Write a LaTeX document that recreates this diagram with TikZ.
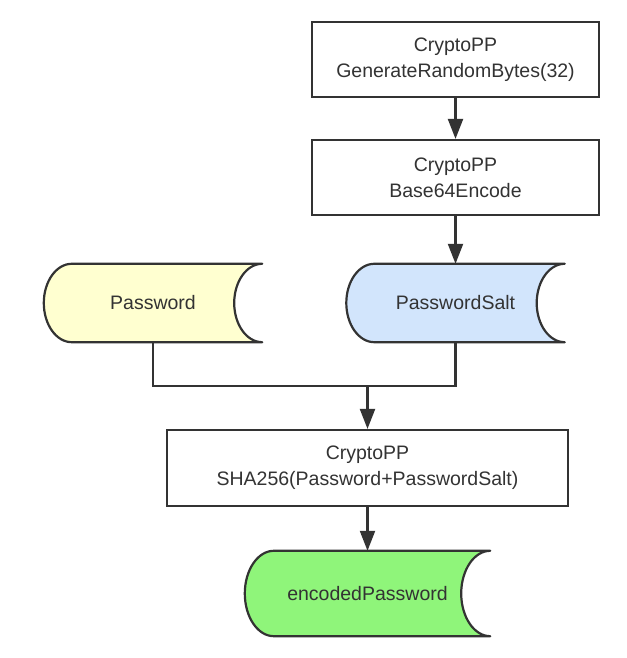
\documentclass[tikz,border=0pt]{standalone}
\usepackage{fontspec}
\setmainfont{Liberation Sans}
\usetikzlibrary{arrows.meta,calc,backgrounds}
\definecolor{ink}{HTML}{333333}
\definecolor{pwfill}{HTML}{FFFFD0}
\definecolor{saltfill}{HTML}{D2E5FC}
\definecolor{encfill}{HTML}{8FF57A}
\newcommand\storedshape[3]{%
  \path[draw=ink, line width=2.2pt, fill=#2, line join=round]
  let \p1=(#1.north west), \p2=(#1.south east), \n1={0.5*(\y1-\y2)} in
  (\x1+#3pt,\y1) -- (\x2,\y1)
  arc[start angle=90, end angle=270, x radius=#3pt, y radius=\n1]
  -- (\x1+#3pt,\y2)
  arc[start angle=270, end angle=90, x radius=#3pt, y radius=\n1] -- cycle;}
\begin{document}
\begin{tikzpicture}[x=1pt,y=1pt,
  txt/.style={font=\fontsize{19.5}{26}\selectfont, text=ink, align=center, inner sep=0pt},
  proc/.style={txt, draw=ink, line width=2.2pt, fill=white, minimum width=287pt, minimum height=75pt},
  store/.style={txt, minimum width=218pt, minimum height=78pt},
  conn/.style={draw=ink, line width=2.2pt},
  arr/.style={conn, -{Triangle[length=20pt,width=15pt]}}]
\useasboundingbox (0,0) rectangle (626,658);
\node[proc] (gen) at (455.5,598.5) {CryptoPP\\GenerateRandomBytes(32)};
\node[proc] (b64) at (455.5,480.5) {CryptoPP\\Base64Encode};
\node[store] (pw) at (153,355) {Password};
\node[store] (salt) at (455.5,355) {PasswordSalt};
\node[proc, minimum width=401pt, minimum height=76pt] (sha) at (367.5,190) {CryptoPP\\SHA256(Password+PasswordSalt)};
\node[store, minimum width=245pt, minimum height=85pt] (enc) at (367.5,64.5) {encodedPassword};
\begin{scope}[on background layer]
  \storedshape{pw}{pwfill}{28}
  \storedshape{salt}{saltfill}{28}
  \storedshape{enc}{encfill}{29}
\end{scope}
\coordinate (join) at (367.5,272);
\draw[arr] (gen) -- (b64);
\draw[arr] (b64) -- (salt);
\draw[conn] (pw.south) |- (join) -| (salt.south);
\draw[arr] (join) -- (sha);
\draw[arr] (sha) -- (enc);
\end{tikzpicture}
\end{document}
